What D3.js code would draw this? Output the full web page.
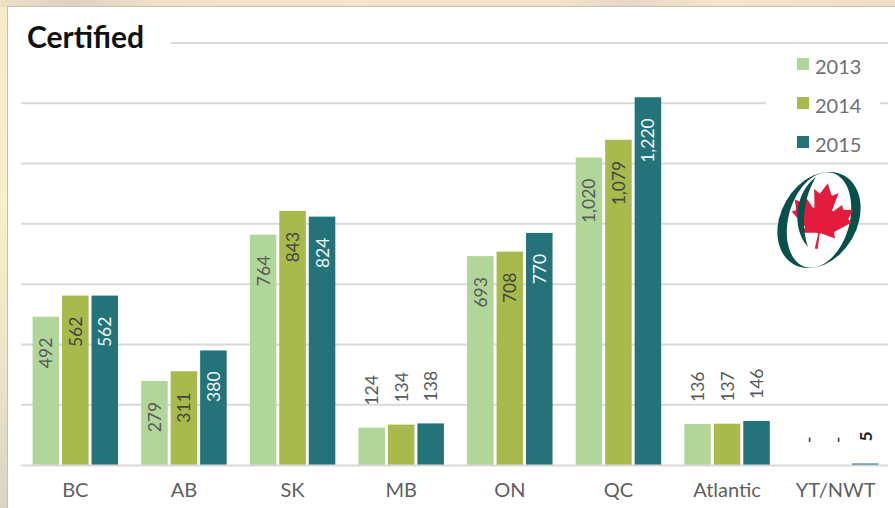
<!DOCTYPE html>
<html>
<head>
<meta charset="utf-8">
<script src="https://cdn.jsdelivr.net/npm/d3@7"></script>
<style>
  html, body { margin: 0; padding: 0; background: #fff; }
  svg { display: block; }
  text { font-family: Lato, "Open Sans", sans-serif; }
</style>
</head>
<body>
<svg id="chart" width="895" height="508"></svg>
<script>
// ---- data ----
const categories = ["BC", "AB", "SK", "MB", "ON", "QC", "Atlantic", "YT/NWT"];
const seriesNames = ["2013", "2014", "2015"];
const values2013 = [492, 279, 764, 124, 693, 1020, 136, 0];
const values2014 = [562, 311, 843, 134, 708, 1079, 137, 0];
const values2015 = [562, 380, 824, 138, 770, 1220, 146, 5];
const yTicks = [0, 200, 400, 600, 800, 1000, 1200, 1400];
const titleText = "Certified";

const seriesValues = [values2013, values2014, values2015];
const colors = ["#b1d699", "#a7ba4b", "#24737a"];
const insideTextColors = ["#595959", "#454545", "#eef4f4"];

const svg = d3.select("#chart");
const W = 895, H = 508;

// ---- decorative background ----
const defs = svg.append("defs");
const gTop = defs.append("linearGradient").attr("id", "gTop").attr("x1", 0).attr("x2", 1).attr("y1", 0).attr("y2", 0);
[["0", "#ece0c6"], ["0.08", "#ddd2c0"], ["0.18", "#efe2c7"], ["0.4", "#f3e6c8"], ["0.62", "#f2e4c6"],
 ["0.7", "#e6d8c8"], ["0.8", "#f4e6c6"], ["1", "#f2dfc2"]].forEach(([o, c]) =>
  gTop.append("stop").attr("offset", o).attr("stop-color", c));
const gLeft = defs.append("linearGradient").attr("id", "gLeft").attr("x1", 0).attr("x2", 0).attr("y1", 0).attr("y2", 1);
[["0", "#f6ecc8"], ["0.4", "#f8f0ca"], ["0.75", "#ebe3c6"], ["1", "#d9d4c2"]].forEach(([o, c]) =>
  gLeft.append("stop").attr("offset", o).attr("stop-color", c));

svg.append("rect").attr("x", 0).attr("y", 0).attr("width", W).attr("height", H).attr("fill", "url(#gLeft)");
svg.append("rect").attr("x", 0).attr("y", 0).attr("width", W).attr("height", 7).attr("fill", "url(#gTop)");
svg.append("rect").attr("x", 7.5).attr("y", 6.5).attr("width", W).attr("height", H)
  .attr("fill", "#ffffff").attr("stroke", "#c8bfae").attr("stroke-width", 1);

// ---- scales ----
const x = d3.scaleBand().domain(categories).range([21, 890]).paddingInner(0.213).paddingOuter(0.1065);
const xs = d3.scaleBand().domain(seriesNames).range([0, x.bandwidth()]).paddingInner(0.1);
const y = d3.scaleLinear().domain([0, 1400]).range([465, 43]);

// ---- gridlines (behind bars) ----
const grid = svg.append("g");
grid.selectAll("line").data(yTicks.filter(t => t !== 0)).join("line")
  .attr("x1", 21).attr("x2", 888)
  .attr("y1", d => y(d)).attr("y2", d => y(d))
  .attr("stroke", "#d9d9d9").attr("stroke-width", 2);

// title background + title
svg.append("rect").attr("x", 10).attr("y", 22).attr("width", 161).attr("height", 40).attr("fill", "#fff");
svg.append("text").attr("x", 27).attr("y", 48).text(titleText)
  .attr("font-size", 30).attr("font-weight", 700).attr("fill", "#111");

// ---- bars ----
const rows = categories.map((c, i) => ({ cat: c, i, vals: seriesValues.map(s => s[i]) }));
const groups = svg.append("g").selectAll("g").data(rows).join("g")
  .attr("transform", d => `translate(${x(d.cat)},0)`);

groups.selectAll("rect").data(d => d.vals.map((v, k) => ({ v, k, s: seriesNames[k] }))).join("rect")
  .attr("x", d => xs(d.s)).attr("width", xs.bandwidth())
  .attr("y", d => y(d.v)).attr("height", d => y(0) - y(d.v))
  .attr("fill", d => colors[d.k]);

// baseline (category axis line)
svg.append("line").attr("x1", 21).attr("x2", 888).attr("y1", y(0) + 0.5).attr("y2", y(0) + 0.5)
  .attr("stroke", "#d9d9d9").attr("stroke-width", 2.2);

const fmt = d3.format(",");
groups.each(function (row) {
  const g = d3.select(this);
  row.vals.forEach((v, k) => {
    const cx = xs(seriesNames[k]) + xs.bandwidth() / 2;
    const inside = v > 200;
    const label = v === 0 ? "-" : fmt(v);
    const ay = inside ? y(v) + 21 : y(v) - 22;
    const col = inside ? insideTextColors[k] : (row.i === categories.length - 1 ? "#1e1e1e" : "#595959");
    g.append("text")
      .attr("transform", `translate(${cx + (v === 0 ? 2 : 0)},${ay}) rotate(-90)`)
      .attr("text-anchor", inside ? "end" : "start")
      .attr("dominant-baseline", "central")
      .attr("font-size", 17.5)
      .attr("font-weight", row.i === categories.length - 1 && v !== 0 ? 700 : 400)
      .attr("fill", col)
      .text(label);
  });
});

// ---- x axis labels ----
const xAxis = d3.axisBottom(x).tickSize(0).tickPadding(0);
const xg = svg.append("g").attr("transform", "translate(0,482)").call(xAxis);
xg.select(".domain").remove();
xg.selectAll("text").attr("font-size", 20).attr("fill", "#5f5f5f")
  .attr("font-family", "Lato, sans-serif").attr("dy", "0.73em");

// ---- legend ----
const leg = svg.append("g");
leg.append("rect").attr("x", 766).attr("y", 50).attr("width", 114).attr("height", 105).attr("fill", "#fff");
const legY = d3.scalePoint().domain(seriesNames).range([64, 142]);
seriesNames.forEach((s, k) => {
  leg.append("rect").attr("x", 797).attr("y", legY(s) - 6).attr("width", 12).attr("height", 12).attr("fill", colors[k]);
  leg.append("text").attr("x", 815).attr("y", legY(s) + 1.5).attr("dominant-baseline", "central")
    .attr("font-size", 20).attr("fill", "#707070").text(s);
});

// ---- logo ----
const logo = svg.append("g").attr("transform", "translate(819,220)");
logo.append("ellipse").attr("rx", 38).attr("ry", 51).attr("transform", "rotate(30)").attr("fill", "#07514b");
logo.append("ellipse").attr("rx", 30.5).attr("ry", 49).attr("transform", "rotate(16)").attr("fill", "#fff");
logo.append("path")
  .attr("transform", "translate(3,-4) rotate(10) scale(0.0165) translate(-4800,-2415)")
  .attr("fill", "#e31b3c")
  .attr("d", "M4890 4430l-45-863a95 95 0 0 1 111-98l859 151-116-320a65 65 0 0 1 20-73l941-762-212-99a65 65 0 0 1-34-79l186-572-542 115a65 65 0 0 1-73-38l-105-247-423 454a65 65 0 0 1-111-57l204-1052-327 189a65 65 0 0 1-91-27l-332-652-332 652a65 65 0 0 1-91 27l-327-189 204 1052a65 65 0 0 1-111 57l-423-454-105 247a65 65 0 0 1-73 38l-542-115 186 572a65 65 0 0 1-34 79l-212 99 941 762a65 65 0 0 1 20 73l-116 320 859-151a95 95 0 0 1 111 98l-45 863z");
// inner crescent stroke
logo.append("path")
  .attr("fill", "#07514b")
  .attr("d", "M-3,-43 C-24,-28 -28,8 -11,27 C-18,6 -16,-22 -3,-43 Z");
</script>
</body>
</html>
